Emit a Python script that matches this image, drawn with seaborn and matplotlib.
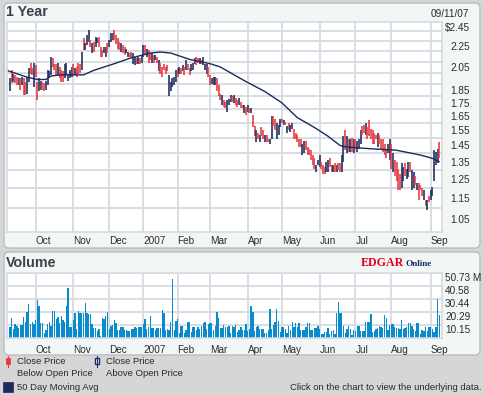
import numpy as np
import pandas as pd
import seaborn as sns
import matplotlib
matplotlib.use("Agg")
from matplotlib import pyplot as plt
from matplotlib.patches import FancyBboxPatch, Rectangle
from matplotlib.ticker import NullFormatter

sns.set_style("white")
plt.rcParams['font.family'] = ['Liberation Sans', 'DejaVu Sans']

# 1 : DATA
holidays = ['2006-11-23', '2006-12-25', '2007-01-01', '2007-01-02', '2007-01-15',
            '2007-02-19', '2007-04-06', '2007-05-28', '2007-07-04', '2007-09-03']
days = pd.bdate_range('2006-09-11', '2007-09-11', freq='C', holidays=holidays)

highs = [1.95, 2.02, 1.99, 1.98, 1.96, 1.95, 1.95, 1.96, 1.95, 1.92,
         1.96, 2.04, 2.09, 2.04, 2.09, 2.07, 1.92, 1.95, 1.93, 1.92,
         1.91, 1.93, 2.02, 2.01, 2.14, 2.13, 2.08, 2.08, 2.09, 2.05,
         2.02, 2.01, 2.08, 2.09, 1.99, 2.02, 2.05, 2.08, 2.04, 2.05,
         2.09, 2.08, 2.19, 2.33, 2.28, 2.36, 2.41, 2.31, 2.28, 2.29,
         2.34, 2.33, 2.34, 2.24, 2.21, 2.24, 2.24, 2.28, 2.31,
         2.38, 2.38, 2.41, 2.36, 2.33, 2.29, 2.28, 2.26, 2.24, 2.22,
         2.19, 2.18, 2.19, 2.18, 2.14, 2.13, 2.14, 2.13, 2.16,
         2.26, 2.26, 2.22, 2.21, 2.18, 2.18, 2.16, 2.16, 2.14, 2.11,
         2.09, 2.05, 2.08, 2.05, 2.07, 1.98, 1.92, 1.95, 1.96, 2.02,
         2.04, 2.05, 2.04, 2.07, 2.05, 2.11, 2.08, 2.04, 2.08, 2.09,
         2.13, 2.14, 2.13, 2.13, 2.11, 2.14, 2.08, 2.08, 2.05, 1.98,
         1.95, 1.96, 1.96, 1.95, 1.89, 1.82, 1.81, 1.77, 1.76, 1.77,
         1.78, 1.81, 1.80, 1.81, 1.79, 1.77, 1.79, 1.76, 1.73, 1.73,
         1.72, 1.73, 1.71, 1.71, 1.66, 1.58, 1.55, 1.53, 1.52,
         1.57, 1.55, 1.52, 1.52, 1.49, 1.49, 1.65, 1.65, 1.63, 1.60,
         1.59, 1.63, 1.63, 1.62, 1.61, 1.58, 1.60, 1.59, 1.60, 1.56,
         1.53, 1.52, 1.49, 1.49, 1.46, 1.48, 1.48, 1.44, 1.43, 1.42,
         1.39, 1.37, 1.33, 1.36, 1.39, 1.35, 1.33, 1.32, 1.35, 1.36,
         1.37, 1.33, 1.33, 1.34, 1.33, 1.34, 1.34, 1.39, 1.51, 1.55,
         1.51, 1.49, 1.49, 1.50, 1.49, 1.49, 1.48, 1.49, 1.55, 1.58,
         1.59, 1.60, 1.57, 1.62, 1.56, 1.55, 1.53, 1.52, 1.53, 1.52,
         1.49, 1.49, 1.46, 1.42, 1.46, 1.49, 1.46, 1.40, 1.36, 1.35,
         1.31, 1.28, 1.34, 1.32, 1.34, 1.31, 1.35, 1.35, 1.30, 1.29,
         1.27, 1.23, 1.23, 1.22, 1.20, 1.19, 1.14, 1.14, 1.16,
         1.19, 1.21, 1.42, 1.41, 1.43, 1.47]

lows = [1.84, 1.91, 1.92, 1.91, 1.89, 1.89, 1.85, 1.89, 1.81, 1.81,
        1.82, 1.92, 1.99, 1.98, 1.88, 1.96, 1.77, 1.84, 1.85, 1.85,
        1.84, 1.85, 1.89, 1.95, 1.98, 2.05, 2.02, 1.98, 1.98, 1.95,
        1.92, 1.92, 1.95, 1.98, 1.93, 1.95, 1.96, 1.98, 1.98, 1.96,
        1.99, 2.00, 2.02, 2.21, 2.21, 2.26, 2.29, 2.24, 2.18, 2.19,
        2.24, 2.28, 2.24, 2.14, 2.14, 2.18, 2.14, 2.18, 2.24,
        2.29, 2.31, 2.31, 2.27, 2.22, 2.21, 2.19, 2.18, 2.16, 2.18,
        2.14, 2.14, 2.13, 2.08, 2.07, 2.08, 2.08, 2.08, 2.09,
        2.14, 2.16, 2.14, 2.09, 2.11, 2.09, 2.09, 2.11, 2.09, 2.01,
        1.99, 1.96, 2.02, 1.99, 2.01, 1.80, 1.84, 1.88, 1.89, 1.92,
        1.96, 1.99, 1.99, 2.01, 1.98, 2.02, 2.02, 1.98, 2.01, 2.02,
        2.08, 2.07, 2.09, 2.08, 2.08, 2.07, 2.02, 1.99, 1.96, 1.89,
        1.90, 1.89, 1.89, 1.84, 1.80, 1.77, 1.73, 1.72, 1.71, 1.68,
        1.73, 1.76, 1.76, 1.75, 1.73, 1.72, 1.73, 1.71, 1.71, 1.67,
        1.66, 1.68, 1.67, 1.67, 1.57, 1.51, 1.47, 1.49, 1.47,
        1.51, 1.49, 1.47, 1.47, 1.47, 1.46, 1.49, 1.58, 1.55, 1.49,
        1.52, 1.57, 1.60, 1.59, 1.59, 1.53, 1.55, 1.54, 1.56, 1.49,
        1.49, 1.47, 1.44, 1.44, 1.39, 1.40, 1.42, 1.39, 1.39, 1.36,
        1.33, 1.31, 1.29, 1.33, 1.32, 1.31, 1.28, 1.28, 1.29, 1.29,
        1.32, 1.29, 1.29, 1.29, 1.29, 1.30, 1.29, 1.29, 1.35, 1.42,
        1.40, 1.41, 1.41, 1.41, 1.40, 1.43, 1.41, 1.43, 1.46, 1.52,
        1.53, 1.52, 1.49, 1.51, 1.49, 1.46, 1.46, 1.49, 1.44, 1.46,
        1.42, 1.41, 1.39, 1.37, 1.40, 1.36, 1.31, 1.29, 1.27, 1.24,
        1.19, 1.19, 1.20, 1.24, 1.27, 1.25, 1.26, 1.29, 1.19, 1.20,
        1.22, 1.19, 1.14, 1.19, 1.16, 1.14, 1.11, 1.09, 1.13,
        1.14, 1.16, 1.24, 1.33, 1.34, 1.37]

# u = close above open, d = close below open
updown = ("ududdududd" "uuddudduud" "duuuudddud" "dduuuuudud" "dduduuudud"
          "uuddduudu" "uudddduddu" "udduududu" "ududdududu" "ddddduuuuu"
          "dudududduu" "udduduuudd" "uuuddduddu" "uududduddu" "dududdudu"
          "ddudduuddu" "uudududuud" "dddduudddd" "dduuuddduu" "ddududduud"
          "udududuuud" "duddddddud" "dddduududd" "dduuduuduu" "dudddudud"
          "uuuuud")

ma_day = [-2, 4, 10, 16, 21, 24, 30, 43, 49, 55, 61, 70, 82, 88, 94, 105, 117, 123,
          137, 149, 159, 168, 178, 186, 193, 197, 210, 226, 240, 247, 251]
ma_val = [2.02, 1.99, 1.96, 1.94, 1.94, 1.97, 1.98, 1.98, 2.02, 2.05, 2.08, 2.13, 2.18,
          2.19, 2.18, 2.12, 2.08, 2.05, 1.93, 1.84, 1.75, 1.64, 1.57, 1.51, 1.45, 1.44,
          1.43, 1.42, 1.39, 1.37, 1.35]

# volume, millions
volume = [8.6, 15.6, 7.0, 10.9, 9.4, 7.8, 10.4, 10.4, 16.4, 12.5,
          20.3, 26.5, 10.9, 12.5, 11.0, 14.3, 29.7, 25.0, 11.7, 11.7,
          3.9, 6.2, 10.9, 12.5, 9.4, 21.1, 21.1, 14.8, 16.4, 11.7,
          16.9, 13.8, 12.5, 25.0, 39.0, 8.6, 8.6, 14.0, 19.5, 7.0,
          21.0, 19.5, 19.5, 19.5, 27.3, 19.5, 18.7, 18.7, 10.9, 7.8,
          7.8, 5.2, 7.0, 1.6, 15.6, 14.8, 17.2, 20.3, 7.0, 9.4,
          10.1, 14.0, 11.7, 6.2, 6.2, 8.6, 8.6, 6.2, 6.2, 5.7,
          5.7, 6.8, 7.0, 8.6, 8.1, 8.6, 8.6, 8.6, 10.9, 14.8,
          7.0, 8.6, 17.2, 7.8, 7.8, 6.2, 7.8, 7.8, 7.8, 21.9,
          19.5, 6.2, 7.0, 6.2, 12.5, 46.0, 6.2, 13.3, 14.8, 3.9,
          9.4, 9.4, 3.9, 6.2, 12.5, 12.5, 4.7, 8.6, 8.6, 6.2,
          8.6, 7.0, 9.4, 11.7, 12.5, 7.0, 10.9, 11.7, 11.7, 6.2,
          9.4, 20.3, 15.6, 7.8,
          7.8, 10.1, 8.6, 8.6, 9.4, 3.9, 9.4, 8.6, 10.1, 4.7,
          6.2, 8.6, 6.2, 6.2, 10.9, 5.7, 7.0, 25.0, 20.3, 5.2,
          8.6, 9.4, 7.0, 7.0, 7.0, 3.9, 3.9, 6.2, 22.6, 7.0,
          10.1, 12.5, 22.6, 13.3, 4.7, 8.6, 8.6, 7.0, 3.9, 9.4,
          6.2, 12.5, 8.6, 11.7, 8.6, 11.7, 6.2, 6.2, 6.2, 8.6,
          11.7, 11.7, 6.2, 6.2, 7.8, 7.8, 9.4, 7.0, 3.1, 3.1,
          4.7, 4.7, 7.8, 3.1, 5.5, 6.2, 3.1, 19.5, 28.1, 19.5,
          19.5, 9.4, 3.9, 7.0, 9.4, 7.0, 2.3, 6.2, 5.5, 9.4,
          9.4, 5.5, 5.5, 5.5, 12.5, 12.5, 12.5, 18.7, 4.7, 5.5,
          7.0, 7.8, 9.4, 8.6, 7.8, 18.0, 15.6, 6.2, 10.1, 10.9,
          10.9, 8.6, 7.8, 7.8, 7.0, 14.0, 7.0, 7.8, 8.6, 11.7,
          11.7, 9.4, 7.0, 5.5, 11.7, 11.7, 3.1, 6.2, 5.5, 8.6,
          5.5, 8.6, 8.6, 7.0, 4.7, 8.6, 30.4, 18.0]

price_labels = [2.45, 2.25, 2.05, 1.85, 1.75, 1.65, 1.55, 1.45, 1.35, 1.25, 1.15, 1.05]
price_grid = [1.1, 1.2, 1.3, 1.4, 1.5, 1.6, 1.7, 1.8, 1.9, 2.0, 2.1, 2.2, 2.3, 2.4]
vol_max = 50.73
vol_labels = ['10.15', '20.29', '30.44', '40.58', '50.73 M']

n = min(len(days), len(highs), len(lows), len(updown), len(volume))
x = np.arange(n)

RED = '#e8363b'
NAVY = '#1d2a5c'
BLUE = '#0a8bcb'
GRID = '#d6dbe3'
TXT = '#2b2b2b'

# month ticks at first trading day
pos, lbl = [], []
for i in range(1, n):
    if days[i].month != days[i - 1].month:
        pos.append(i)
        lbl.append('2007' if days[i].month == 1 else days[i].strftime('%b'))

W, H = 484, 395
fig = plt.figure(figsize=(W / 100, H / 100), dpi=100)
fig.patch.set_facecolor('#d6d6d6')

# background panels and texts in pixel coordinates
bg = fig.add_axes([0, 0, 1, 1])
bg.set_xlim(0, W)
bg.set_ylim(H, 0)
bg.axis('off')
for (px, py, pw, ph) in [(4, 3, 476, 245), (4, 252, 476, 103)]:
    bg.add_patch(FancyBboxPatch((px, py), pw, ph, boxstyle='round,pad=0,rounding_size=5',
                                fc='#f2f6f5', ec='#b5bfc3', lw=1))
bg.text(6, 12, '1 Year', fontsize=10.3, fontweight='bold', color='#3a4450', va='center')
bg.text(469, 14, '09/11/07', fontsize=7.2, color=TXT, ha='right', va='center')
bg.text(6, 263, 'Volume', fontsize=10.3, fontweight='bold', color='#3a4450', va='center')
bg.text(361, 265.5, 'EDGAR', fontsize=8.6, fontweight='bold', color='#e2001a',
        family=['Liberation Serif', 'DejaVu Serif'], va='baseline')
bg.text(405, 265.5, 'Online', fontsize=6.6, fontweight='bold', color='#1d2a6c',
        family=['Liberation Serif', 'DejaVu Serif'], va='baseline')

# legend
bg.plot([7.7, 7.7], [356, 367], color=RED, lw=0.8)
bg.add_patch(Rectangle((5.7, 358), 4, 6, fc=RED, ec=RED, lw=0.5))
bg.plot([97, 97], [356, 367], color=NAVY, lw=0.8)
bg.add_patch(Rectangle((95, 358), 4, 6, fc='white', ec=NAVY, lw=1))
bg.add_patch(Rectangle((3, 382), 10, 10, fc=NAVY, ec=NAVY, lw=0.5))
fs = 6.8
bg.text(17, 361, 'Close Price', fontsize=fs, color=TXT, va='center')
bg.text(17, 373, 'Below Open Price', fontsize=fs, color=TXT, va='center')
bg.text(106, 361, 'Close Price', fontsize=fs, color=TXT, va='center')
bg.text(106, 373, 'Above Open Price', fontsize=fs, color=TXT, va='center')
bg.text(17, 387, '50 Day Moving Avg', fontsize=fs, color=TXT, va='center')
bg.text(481, 388, 'Click on the chart to view the underlying data.', fontsize=fs,
        color=TXT, ha='right', va='center')

xl = (-1.75, 252.6)

# 2 : PRICE
ax = fig.add_axes([7 / W, 1 - 232 / H, 435 / W, 210 / H])
ax.set_facecolor('white')
cols = [RED if c == 'd' else NAVY for c in updown[:n]]
ax.vlines(x, lows[:n], highs[:n], colors=cols, lw=1.15)
sns.lineplot(x=ma_day, y=ma_val, color=NAVY, lw=1.0, ax=ax)
ax.set_yscale('log')
ax.set_ylim(0.99, 2.5)
ax.set_xlim(*xl)
ax.set_yticks(price_labels, labels=['$2.45'] + ['%.2f' % v for v in price_labels[1:]])
ax.set_yticks(price_grid, minor=True)
ax.yaxis.set_minor_formatter(NullFormatter())
ax.yaxis.tick_right()
ax.tick_params(axis='y', which='both', length=0, pad=20.2, labelsize=7.2, labelcolor=TXT)
for t in ax.get_yticklabels():
    t.set_ha('right')
ax.set_xticks(pos, labels=lbl)
ax.tick_params(axis='x', length=0, pad=3, labelsize=7.2, labelcolor=TXT)
for t in ax.get_xticklabels():
    t.set_ha('left')
ax.grid(False)
ax.grid(True, which='minor', axis='y', color=GRID, lw=1.3)
ax.grid(True, which='major', axis='x', color=GRID, lw=1.3)
ax.set_axisbelow(True)
for s in ax.spines.values():
    s.set_color(GRID)
    s.set_linewidth(1.2)
ax.set_xlabel('')
ax.set_ylabel('')

# 3 : VOLUME
vax = fig.add_axes([7 / W, 1 - 338 / H, 435 / W, 65 / H])
vax.set_facecolor('white')
sns.barplot(x=x, y=volume[:n], native_scale=True, color=BLUE, saturation=1,
            width=0.78, errorbar=None, linewidth=0, ax=vax)
vax.set_xlim(*xl)
vax.set_ylim(0, vol_max)
vax.set_yticks([vol_max * k / 5 for k in range(1, 6)], labels=vol_labels)
vax.yaxis.tick_right()
vax.tick_params(axis='y', length=0, pad=2.2, labelsize=7.2, labelcolor=TXT)
for t in vax.get_yticklabels():
    t.set_va('top')
vax.set_xticks(pos, labels=lbl)
vax.tick_params(axis='x', length=0, pad=5, labelsize=7.2, labelcolor=TXT)
for t in vax.get_xticklabels():
    t.set_ha('left')
vax.grid(True, axis='both', color=GRID, lw=1.3)
vax.set_axisbelow(True)
for s in vax.spines.values():
    s.set_color(GRID)
    s.set_linewidth(1.2)
vax.set_xlabel('')
vax.set_ylabel('')

fig.savefig('out.png', dpi=100, facecolor=fig.get_facecolor())
